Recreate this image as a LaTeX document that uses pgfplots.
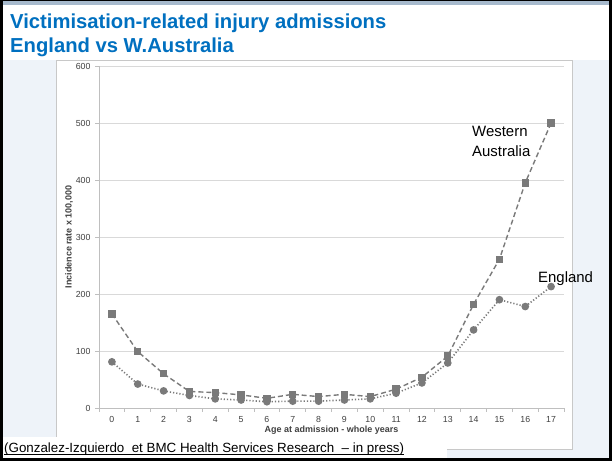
\documentclass[border=0pt]{standalone}
\usepackage{pgfplots}
\pgfplotsset{compat=1.18}
\usepackage{fontspec}
\setmainfont{Liberation Sans}
\definecolor{slidebg}{HTML}{EEF3F9}
\definecolor{topbar}{HTML}{A7BACD}
\definecolor{titleblue}{HTML}{0070C0}
\definecolor{chartborder}{HTML}{C8C8C8}
\definecolor{gridgray}{HTML}{D9D9D9}
\definecolor{axisgray}{HTML}{BFBFBF}
\definecolor{serie}{HTML}{7A7A7A}
\definecolor{ticktext}{HTML}{404040}
\pgfplotstableread{
age wa eng
0 165 81
1 99 42
2 60 30
3 29 22
4 27 16
5 23 14
6 17 11
7 24 12
8 20 12
9 24 14
10 20 16
11 33 26
12 54 44
13 91 79
14 182 137
15 261 190
16 395 178
17 500 213
}\datatable
\begin{document}
\begin{tikzpicture}[x=1bp,y=1bp]
\useasboundingbox (0,0) rectangle (612,461);
\fill[slidebg] (0,0) rectangle (612,461);
\fill[white] (3,401) rectangle (609,456);
\fill[topbar] (0,456) rectangle (612,461);
\filldraw[fill=white, draw=chartborder, line width=0.8bp] (56,12) rectangle (572,401);
\fill[white] (3,3) rectangle (447,24);
\draw[black, line width=3bp] (1.5,1.5) rectangle (610.5,461);
\draw[black, line width=1bp] (0,460.5) -- (612,460.5);
\node[anchor=base west, inner sep=0, text=titleblue, font=\bfseries\fontsize{20.3}{24}\selectfont] at (10,432) {Victimisation-related injury admissions};
\node[anchor=base west, inner sep=0, text=titleblue, font=\bfseries\fontsize{20.3}{24}\selectfont] at (10,408) {England vs W.Australia};
\node[anchor=base west, inner sep=0, font=\fontsize{13.4}{15}\selectfont] (fn) at (4,8) {(Gonzalez-Izquierdo\ \ et BMC Health Services Research\ \ -- in press)};
\draw[black, line width=0.8bp] (4,6.3) -- (fn.east |- 0,6.3);
\begin{axis}[
  at={(99bp,53bp)}, anchor=south west,
  scale only axis, width=465bp, height=342bp,
  xmin=-0.5, xmax=17.5, ymin=0, ymax=600,
  axis x line*=bottom, axis y line*=left,
  axis line style={axisgray, line width=0.8bp},
  ymajorgrids, grid style={gridgray, line width=0.8bp},
  ytick={0,100,...,600},
  xtick={0,...,17},
  minor xtick={-0.5,0.5,...,17.5},
  major x tick style={draw=none},
  tick align=outside,
  major tick length=4bp, minor tick length=4bp,
  tick style={axisgray, line width=0.8bp},
  /pgf/number format/assume math mode=true,
  ticklabel style={font=\fontsize{8.8}{10}\selectfont, text=ticktext},
  yticklabel style={xshift=-1bp},
  xticklabel style={yshift=-1bp},
  xlabel={Age at admission - whole years},
  ylabel={Incidence rate x 100,000},
  label style={font=\bfseries\fontsize{9}{11}\selectfont, text=ticktext},
  xlabel style={yshift=4bp},
  ylabel style={yshift=-4bp},
  clip=false,
]
\addplot[serie, line width=1.4bp, dash pattern=on 5bp off 3bp, mark=square*, mark size=3bp, mark options={solid, fill=serie, draw=serie}] table[x=age, y=wa] {\datatable};
\addplot[serie, line width=1.6bp, dash pattern=on 1.2bp off 2bp, mark=*, mark size=3bp, mark options={solid, fill=serie, draw=serie}] table[x=age, y=eng] {\datatable};
\end{axis}
\node[anchor=base west, inner sep=0, font=\fontsize{15}{18}\selectfont] at (472,324) {Western};
\node[anchor=base west, inner sep=0, font=\fontsize{15}{18}\selectfont] at (472,304) {Australia};
\node[anchor=base west, inner sep=0, font=\fontsize{15}{18}\selectfont] at (538,178) {England};
\end{tikzpicture}
\end{document}
